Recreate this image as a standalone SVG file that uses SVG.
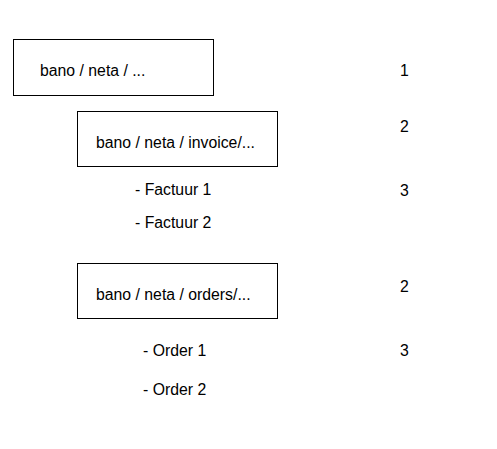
<svg xmlns="http://www.w3.org/2000/svg" width="497" height="449" viewBox="0 0 497 449">
<style>
.box{fill:#fff;stroke:#000;stroke-width:1}
text{font-family:"Liberation Sans",Arial,sans-serif;font-size:15.8px;fill:#000}
</style>
<rect x="0" y="0" width="497" height="449" fill="#fff"/>
<g id="connectors"></g>
<g id="node-root">
<rect class="box" x="13.5" y="39.5" width="200" height="56"/>
<text x="40" y="76">bano / neta / ...</text>
</g>
<g id="node-invoice">
<rect class="box" x="77.5" y="111.5" width="200" height="55"/>
<text x="96" y="148">bano / neta / invoice/...</text>
</g>
<g id="node-factuur1"><text x="135" y="195">- Factuur 1</text></g>
<g id="node-factuur2"><text x="135" y="228">- Factuur 2</text></g>
<g id="node-orders">
<rect class="box" x="77.5" y="263.5" width="200" height="55"/>
<text x="96" y="300">bano / neta / orders/...</text>
</g>
<g id="node-order1"><text x="143" y="356">- Order 1</text></g>
<g id="node-order2"><text x="143" y="395">- Order 2</text></g>
<g id="levels">
<text x="400" y="75.5">1</text>
<text x="400" y="131.5">2</text>
<text x="400" y="195.5">3</text>
<text x="400" y="291.5">2</text>
<text x="400" y="355.5">3</text>
</g>
</svg>
